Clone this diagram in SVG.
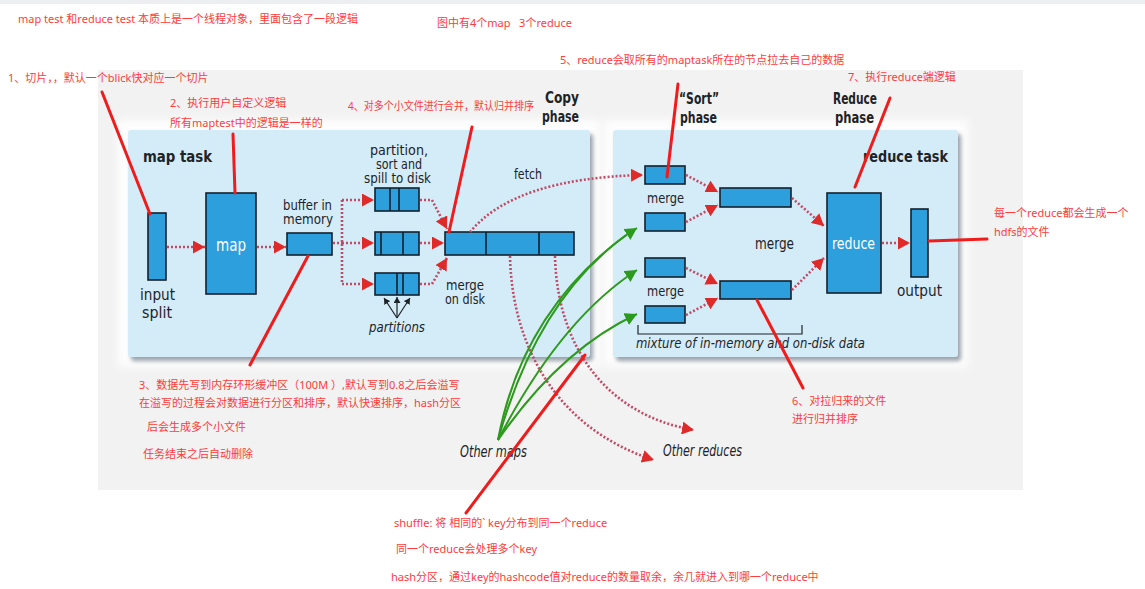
<svg xmlns="http://www.w3.org/2000/svg" width="1145" height="589" viewBox="0 0 1145 589">
<style>
.note{font-family:"Noto Sans","Noto Sans CJK SC",sans-serif;font-size:11px;fill:#ff3b3b;white-space:pre}
.lbl{font-family:"DejaVu Sans Condensed","DejaVu Sans",sans-serif;font-stretch:condensed;fill:#1e2328}
.b{font-weight:bold}
.it{font-style:italic}
.wt{fill:#ffffff}
.box{fill:#2d9fdc;stroke:#15202b;stroke-width:1.6}
.div{stroke:#15202b;stroke-width:1.6}
.dot{fill:none;stroke:#c24a64;stroke-width:2.6;stroke-dasharray:2 2}
.grn{fill:none;stroke:#2c9a1c;stroke-width:2}
.ann{fill:none;stroke:#f01c1c;stroke-width:3;stroke-linecap:round}
.panel{fill:#d4ecf8}
</style>
<defs>
<marker id="ar" markerUnits="userSpaceOnUse" markerWidth="13" markerHeight="13" refX="12" refY="6.5" orient="auto">
<path d="M0,0 L12,6.5 L0,13 Z" fill="#df2a2a"/>
</marker>
<marker id="ag" markerUnits="userSpaceOnUse" markerWidth="13" markerHeight="13" refX="12" refY="6.5" orient="auto">
<path d="M0,0 L12,6.5 L0,13 Z" fill="#2c9a1c"/>
</marker>
<marker id="ak" markerUnits="userSpaceOnUse" markerWidth="7" markerHeight="7" refX="6" refY="3.5" orient="auto">
<path d="M0,0 L6,3.5 L0,7 Z" fill="#1e2328"/>
</marker>
<filter id="sh" x="-5%" y="-5%" width="110%" height="115%">
<feDropShadow dx="3" dy="4" stdDeviation="2" flood-color="#6f7c86" flood-opacity="0.7"/>
</filter>
<filter id="halo" x="-5%" y="-10%" width="110%" height="120%">
<feGaussianBlur stdDeviation="4"/>
</filter>
</defs>

<rect x="0" y="0" width="1145" height="589" fill="#ffffff"/>
<rect x="0" y="0" width="1145" height="4" fill="#eceef1"/>
<rect x="98" y="70" width="925" height="420" fill="#f2f2f2"/>

<g id="panels">
<rect x="118" y="120" width="482" height="247" fill="#ffffff" opacity="0.9" filter="url(#halo)"/>
<rect x="604" y="120" width="364" height="247" fill="#ffffff" opacity="0.9" filter="url(#halo)"/>
<rect class="panel" x="128" y="130" width="462" height="227" rx="3" filter="url(#sh)"/>
<rect class="panel" x="613" y="130" width="345" height="227" rx="3" filter="url(#sh)"/>
</g>

<g id="phase-labels">
<text class="lbl b" x="545" y="103" font-size="16" textLength="34" lengthAdjust="spacingAndGlyphs">Copy</text>
<text class="lbl b" x="542" y="122" font-size="16" textLength="37" lengthAdjust="spacingAndGlyphs">phase</text>
<text class="lbl b" x="679" y="104" font-size="16" textLength="40" lengthAdjust="spacingAndGlyphs">“Sort”</text>
<text class="lbl b" x="680" y="123" font-size="16" textLength="37" lengthAdjust="spacingAndGlyphs">phase</text>
<text class="lbl b" x="833" y="104" font-size="16" textLength="44" lengthAdjust="spacingAndGlyphs">Reduce</text>
<text class="lbl b" x="835" y="123" font-size="16" textLength="39" lengthAdjust="spacingAndGlyphs">phase</text>
</g>

<g id="map-task">
<text class="lbl b" x="143" y="162" font-size="16" textLength="69" lengthAdjust="spacingAndGlyphs">map task</text>
</g>

<g id="input-split">
<rect class="box" x="148" y="213" width="18" height="67"/>
<text class="lbl" x="140" y="300" font-size="15" textLength="35" lengthAdjust="spacingAndGlyphs">input</text>
<text class="lbl" x="142" y="318" font-size="15" textLength="30" lengthAdjust="spacingAndGlyphs">split</text>
</g>

<g id="map">
<rect class="box" x="206" y="193" width="50" height="101"/>
<text class="lbl wt" x="216" y="251" font-size="17" textLength="30" lengthAdjust="spacingAndGlyphs">map</text>
</g>

<g id="buffer">
<rect class="box" x="287" y="233" width="45" height="22"/>
<text class="lbl" x="283" y="210" font-size="14" textLength="49" lengthAdjust="spacingAndGlyphs">buffer in</text>
<text class="lbl" x="283" y="224" font-size="14" textLength="50" lengthAdjust="spacingAndGlyphs">memory</text>
</g>

<g id="spills">
<text class="lbl" x="370" y="155" font-size="14" textLength="58" lengthAdjust="spacingAndGlyphs">partition,</text>
<text class="lbl" x="376" y="169" font-size="14" textLength="46" lengthAdjust="spacingAndGlyphs">sort and</text>
<text class="lbl" x="364" y="183" font-size="14" textLength="67" lengthAdjust="spacingAndGlyphs">spill to disk</text>
<rect class="box" x="375" y="188" width="44" height="23"/>
<line class="div" x1="390" y1="188" x2="390" y2="211"/>
<line class="div" x1="399" y1="188" x2="399" y2="211"/>
<rect class="box" x="375" y="232" width="44" height="23"/>
<line class="div" x1="381" y1="232" x2="381" y2="255"/>
<line class="div" x1="403" y1="232" x2="403" y2="255"/>
<rect class="box" x="375" y="273" width="44" height="22"/>
<line class="div" x1="397" y1="273" x2="397" y2="295"/>
<line class="div" x1="403" y1="273" x2="403" y2="295"/>
</g>

<g id="partitions">
<text class="lbl it" x="369" y="332" font-size="14" textLength="56" lengthAdjust="spacingAndGlyphs">partitions</text>
<line x1="397" y1="318" x2="384" y2="298" stroke="#1e2328" stroke-width="1.2" marker-end="url(#ak)"/>
<line x1="397" y1="318" x2="397" y2="297" stroke="#1e2328" stroke-width="1.2" marker-end="url(#ak)"/>
<line x1="397" y1="318" x2="410" y2="298" stroke="#1e2328" stroke-width="1.2" marker-end="url(#ak)"/>
</g>

<g id="merge-on-disk">
<rect class="box" x="445" y="232" width="129" height="23"/>
<line class="div" x1="486" y1="232" x2="486" y2="255"/>
<line class="div" x1="539" y1="232" x2="539" y2="255"/>
<text class="lbl" x="446" y="290" font-size="14" textLength="38" lengthAdjust="spacingAndGlyphs">merge</text>
<text class="lbl" x="445" y="304" font-size="14" textLength="40" lengthAdjust="spacingAndGlyphs">on disk</text>
<text class="lbl" x="514" y="179" font-size="14" textLength="28" lengthAdjust="spacingAndGlyphs">fetch</text>
</g>

<g id="reduce-task">
<text class="lbl b" x="863" y="162" font-size="16" textLength="85" lengthAdjust="spacingAndGlyphs">reduce task</text>
</g>

<g id="sort-merges">
<rect class="box" x="645" y="166" width="40" height="18"/>
<text class="lbl" x="647" y="203" font-size="14" textLength="37" lengthAdjust="spacingAndGlyphs">merge</text>
<rect class="box" x="645" y="213" width="40" height="18"/>
<rect class="box" x="645" y="258" width="40" height="19"/>
<text class="lbl" x="647" y="296" font-size="14" textLength="37" lengthAdjust="spacingAndGlyphs">merge</text>
<rect class="box" x="645" y="306" width="40" height="17"/>
<rect class="box" x="720" y="188" width="71" height="19"/>
<rect class="box" x="720" y="281" width="71" height="18"/>
<text class="lbl" x="755" y="249" font-size="15" textLength="39" lengthAdjust="spacingAndGlyphs">merge</text>
<path d="M638,325 V334 H802 V325" fill="none" stroke="#1e2328" stroke-width="1.2"/>
<text class="lbl it" x="636" y="348" font-size="14" textLength="229" lengthAdjust="spacingAndGlyphs">mixture of in-memory and on-disk data</text>
</g>

<g id="reduce">
<rect class="box" x="827" y="193" width="54" height="100"/>
<text class="lbl wt" x="832" y="249" font-size="16" textLength="43" lengthAdjust="spacingAndGlyphs">reduce</text>
</g>

<g id="output">
<rect class="box" x="911" y="209" width="17" height="68"/>
<text class="lbl" x="897" y="296" font-size="16" textLength="45" lengthAdjust="spacingAndGlyphs">output</text>
</g>

<g id="others">
<text class="lbl it" x="460" y="457" font-size="15" textLength="67" lengthAdjust="spacingAndGlyphs">Other maps</text>
<text class="lbl it" x="663" y="456" font-size="15" textLength="79" lengthAdjust="spacingAndGlyphs">Other reduces</text>
</g>

<g id="connectors">
<line class="dot" x1="167" y1="247" x2="205" y2="247" marker-end="url(#ar)"/>
<line class="dot" x1="257" y1="247" x2="286" y2="247" marker-end="url(#ar)"/>
<path class="dot" d="M333,243 H342"/>
<path class="dot" d="M342,200 V284"/>
<line class="dot" x1="342" y1="200" x2="374" y2="200" marker-end="url(#ar)"/>
<line class="dot" x1="342" y1="243" x2="374" y2="243" marker-end="url(#ar)"/>
<line class="dot" x1="342" y1="284" x2="374" y2="284" marker-end="url(#ar)"/>
<path class="dot" d="M420,200 H432 L447,229" marker-end="url(#ar)"/>
<line class="dot" x1="420" y1="243" x2="444" y2="243" marker-end="url(#ar)"/>
<path class="dot" d="M420,284 H432 L447,258" marker-end="url(#ar)"/>
<path class="dot" d="M470,232 Q515,178 643,175" marker-end="url(#ar)"/>
<path class="dot" d="M510,256 C512,350 560,430 654,460" marker-end="url(#ar)"/>
<path class="dot" d="M555,256 C557,345 605,415 694,430" marker-end="url(#ar)"/>
<path class="dot" d="M686,175 L718,192" marker-end="url(#ar)"/>
<path class="dot" d="M686,222 L718,205" marker-end="url(#ar)"/>
<path class="dot" d="M686,268 L718,284" marker-end="url(#ar)"/>
<path class="dot" d="M686,315 L718,298" marker-end="url(#ar)"/>
<path class="dot" d="M792,198 L824,226" marker-end="url(#ar)"/>
<path class="dot" d="M792,290 L824,258" marker-end="url(#ar)"/>
<line class="dot" x1="882" y1="243" x2="910" y2="243" marker-end="url(#ar)"/>
<path class="grn" d="M498,440 Q522,312 626,235"/>
<path class="grn" d="M498,440 Q540,290 637,228" marker-end="url(#ag)"/>
<path class="grn" d="M498,440 Q560,320 637,270" marker-end="url(#ag)"/>
<path class="grn" d="M498,440 Q560,350 637,314" marker-end="url(#ag)"/>
</g>

<g id="annotation-lines">
<line class="ann" x1="102" y1="92" x2="150" y2="214"/>
<line class="ann" x1="233" y1="134" x2="235" y2="193"/>
<line class="ann" x1="308" y1="256" x2="250" y2="365"/>
<line class="ann" x1="472" y1="127" x2="449" y2="232"/>
<line class="ann" x1="678" y1="84" x2="667" y2="177"/>
<line class="ann" x1="890" y1="98" x2="855" y2="187"/>
<line class="ann" x1="929" y1="241" x2="987" y2="239"/>
<line class="ann" x1="757" y1="300" x2="803" y2="388"/>
<line class="ann" x1="585" y1="355" x2="466" y2="513"/>
</g>

<g id="notes">
<text class="note" x="18" y="23">map test 和reduce test 本质上是一个线程对象，里面包含了一段逻辑</text>
<text class="note" x="437" y="27" xml:space="preserve">图中有4个map   3个reduce</text>
<text class="note" x="8" y="82">1、切片，，默认一个blick快对应一个切片</text>
<text class="note" x="170" y="107">2、执行用户自定义逻辑</text>
<text class="note" x="170" y="127">所有maptest中的逻辑是一样的</text>
<text class="note" x="348" y="110" textLength="186" lengthAdjust="spacingAndGlyphs">4、对多个小文件进行合并，默认归并排序</text>
<text class="note" x="560" y="64">5、reduce会取所有的maptask所在的节点拉去自己的数据</text>
<text class="note" x="848" y="81">7、执行reduce端逻辑</text>
<text class="note" x="994" y="217">每一个reduce都会生成一个</text>
<text class="note" x="994" y="236">hdfs的文件</text>
<text class="note" x="139" y="389">3、数据先写到内存环形缓冲区（100M ）,默认写到0.8之后会溢写</text>
<text class="note" x="139" y="407">在溢写的过程会对数据进行分区和排序，默认快速排序，hash分区</text>
<text class="note" x="147" y="431">后会生成多个小文件</text>
<text class="note" x="143" y="458">任务结束之后自动删除</text>
<text class="note" x="792" y="405">6、对拉归来的文件</text>
<text class="note" x="792" y="423">进行归并排序</text>
<text class="note" x="394" y="527">shuffle: 将 相同的` key分布到同一个reduce</text>
<text class="note" x="396" y="553">同一个reduce会处理多个key</text>
<text class="note" x="391" y="581">hash分区，通过key的hashcode值对reduce的数量取余，余几就进入到哪一个reduce中</text>
</g>
</svg>
